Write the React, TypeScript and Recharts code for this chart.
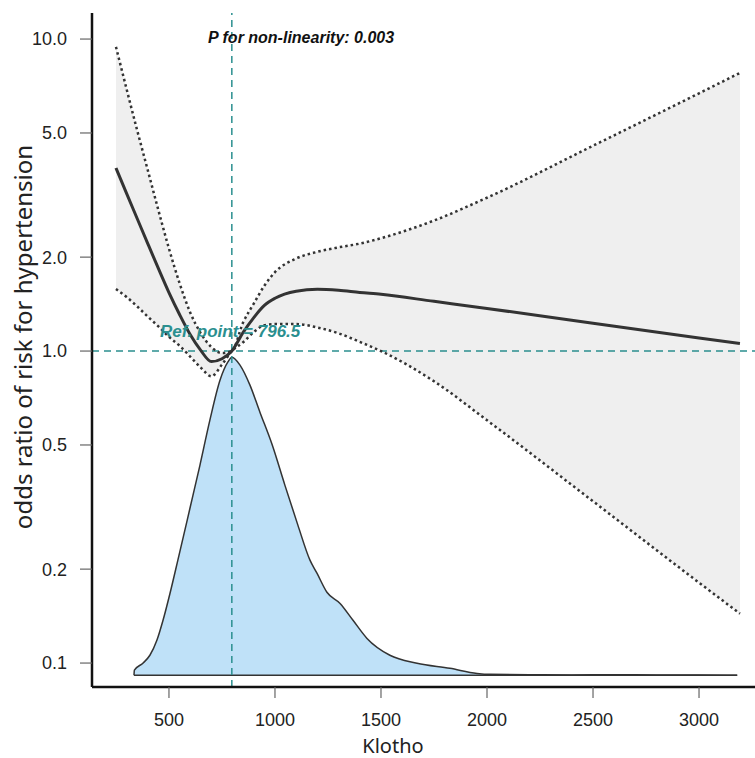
import React from 'react';
import { ComposedChart, Line, Area, XAxis, YAxis, ReferenceLine } from 'recharts';

// restricted cubic spline fit (odds ratio, log scale)
const klotho = [250, 300, 350, 400, 450, 500, 550, 600, 650, 700, 750, 796.5, 850, 900, 950, 1000, 1100, 1200, 1300, 1400, 1500, 1750, 2000, 2500, 3000, 3193];
const orFit = [3.86, 3.2, 2.66, 2.21, 1.84, 1.54, 1.31, 1.13, 1.005, 0.925, 0.945, 1.0, 1.148, 1.28, 1.4, 1.476, 1.555, 1.577, 1.565, 1.54, 1.52, 1.443, 1.37, 1.227, 1.102, 1.058];
const orUpper = [9.44, 6.92, 5.1, 3.8, 2.83, 2.13, 1.65, 1.33, 1.14, 1.03, 0.985, 1.0, 1.236, 1.42, 1.62, 1.79, 1.98, 2.08, 2.15, 2.21, 2.3, 2.62, 3.1, 4.55, 6.7, 7.79];
const orLower = [1.58, 1.49, 1.39, 1.29, 1.2, 1.11, 1.04, 0.96, 0.885, 0.83, 0.905, 1.0, 1.067, 1.15, 1.21, 1.22, 1.22, 1.19, 1.14, 1.07, 1.0, 0.8, 0.6, 0.33, 0.181, 0.144];

// distribution of Klotho (relative density)
const densX = [335, 337, 377, 410, 443, 472, 505, 542, 599, 646, 693, 741, 778, 797, 835, 882, 929, 986, 1047, 1108, 1165, 1198, 1245, 1307, 1368, 1434, 1542, 1670, 1825, 1953, 2014, 2200, 2400, 2600, 2800, 3000, 3180];
const densY = [0, 0.016, 0.038, 0.063, 0.11, 0.173, 0.258, 0.362, 0.525, 0.66, 0.802, 0.928, 0.985, 1.0, 0.975, 0.912, 0.827, 0.726, 0.597, 0.472, 0.362, 0.321, 0.261, 0.226, 0.173, 0.116, 0.063, 0.038, 0.022, 0.006, 0.003, 0.002, 0.001, 0.002, 0.001, 0.001, 0];

const xTicks = [500, 1000, 1500, 2000, 2500, 3000];
const yTicks = [0.1, 0.2, 0.5, 1, 2, 5, 10];
const refPoint = 796.5;
const pNonLinear = '0.003';

const curveData = klotho.map((x, i) => ({ x, fit: orFit[i], upper: orUpper[i], lower: orLower[i], band: [orLower[i], orUpper[i]] }));
const densData = densX.map((x, i) => ({ x, dens: densY[i] }));

const teal = '#2b8f8f';
const font = '"Liberation Sans", Arial, sans-serif';

const App: React.FC = () => {
  return (
    <div style={{ position: 'absolute', left: 0, top: 0, width: 755, height: 758, background: '#fff' }}>
      <ComposedChart width={755} height={758} margin={{ top: 13, right: 0, bottom: 0, left: 0 }}>
        <XAxis
          dataKey="x"
          type="number"
          domain={[137, 3264]}
          allowDataOverflow
          ticks={xTicks}
          height={71}
          axisLine={{ stroke: '#111', strokeWidth: 2.5 }}
          tickLine={{ stroke: '#666', strokeWidth: 1.2 }}
          tickSize={11}
          tickMargin={15}
          tick={{ fill: '#222', fontSize: 18, fontFamily: font }}
        />
        <YAxis
          yAxisId="or"
          type="number"
          scale="log"
          domain={[0.0838, 12.12]}
          allowDataOverflow
          ticks={yTicks}
          tickFormatter={(v: number) => v.toFixed(1)}
          width={92}
          axisLine={{ stroke: '#111', strokeWidth: 2.5 }}
          tickLine={{ stroke: '#666', strokeWidth: 1.2 }}
          tickSize={12}
          tickMargin={13}
          tick={{ fill: '#222', fontSize: 18, fontFamily: font }}
        />
        <YAxis yAxisId="dens" orientation="right" width={0} type="number" domain={[-0.0368, 2.0817]} allowDataOverflow hide />

        <Area data={curveData} yAxisId="or" dataKey="band" type="monotone" fill="#efefef" fillOpacity={1} stroke="none" isAnimationActive={false} />
        <Area data={densData} yAxisId="dens" dataKey="dens" type="monotone" fill="#bfe1f8" fillOpacity={1} stroke="#333" strokeWidth={1.5} isAnimationActive={false} />
        <ReferenceLine yAxisId="dens" segment={[{ x: densX[0], y: 0 }, { x: densX[densX.length - 1], y: 0 }]} stroke="#333" strokeWidth={1.5} />

        <ReferenceLine yAxisId="or" y={1} stroke={teal} strokeWidth={1.5} strokeDasharray="7 5" />
        <ReferenceLine yAxisId="or" x={refPoint} stroke={teal} strokeWidth={1.5} strokeDasharray="7 5" />

        <Line data={curveData} yAxisId="or" dataKey="upper" type="monotone" stroke="#333" strokeWidth={2.5} strokeDasharray="2.5 3" dot={false} isAnimationActive={false} />
        <Line data={curveData} yAxisId="or" dataKey="lower" type="monotone" stroke="#333" strokeWidth={2.5} strokeDasharray="2.5 3" dot={false} isAnimationActive={false} />
        <Line data={curveData} yAxisId="or" dataKey="fit" type="monotone" stroke="#333" strokeWidth={3} dot={false} isAnimationActive={false} />
      </ComposedChart>

      <svg width={755} height={758} style={{ position: 'absolute', left: 0, top: 0, pointerEvents: 'none' }}>
        <text x={208} y={43} fontFamily={font} fontSize={16} fontWeight="bold" fontStyle="italic" fill="#111">
          P for non-linearity: {pNonLinear}
        </text>
        <text x={160} y={337} fontFamily={font} fontSize={17} fontWeight="bold" fontStyle="italic" fill={teal}>
          Ref. point = {refPoint}
        </text>
        <text x={393} y={753} textAnchor="middle" fontFamily='"Noto Sans", sans-serif' fontSize={20} fill="#222">
          Klotho
        </text>
        <text x={32} y={337} transform="rotate(-90 32 337)" textAnchor="middle" fontFamily='"Noto Sans", sans-serif' fontSize={24} fill="#222">
          odds ratio of risk for hypertension
        </text>
      </svg>
    </div>
  );
};

export default App;
